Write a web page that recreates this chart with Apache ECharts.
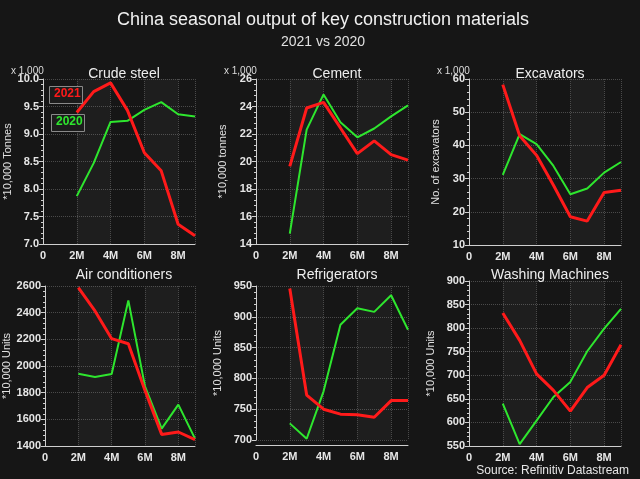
<!DOCTYPE html>
<html><head><meta charset="utf-8">
<script src="https://cdn.jsdelivr.net/npm/echarts@6/dist/echarts.min.js"></script>
<style>html,body{margin:0;padding:0;background:#161616}#c{width:640px;height:479px}</style>
</head><body><div id="c"></div>
<script>
const months = [2, 3, 4, 5, 6, 7, 8, 9];
const xTicks = ['0', '2M', '4M', '6M', '8M'];

const steel2021 = [9.39, 9.77, 9.93, 9.43, 8.66, 8.33, 7.36, 7.15];
const steel2020 = [7.87, 8.47, 9.22, 9.24, 9.44, 9.58, 9.36, 9.32];
const cement2021 = [19.65, 23.89, 24.30, 22.44, 20.57, 21.5, 20.5, 20.1];
const cement2020 = [14.75, 22.32, 24.88, 22.85, 21.76, 22.4, 23.28, 24.08];
const excav2021 = [58.3, 42.9, 37.0, 28.0, 18.5, 17.2, 25.8, 26.5];
const excav2020 = [31.1, 43.4, 40.4, 33.8, 25.3, 27.0, 31.8, 35.0];
const ac2021 = [2588, 2413, 2205, 2167, 1817, 1487, 1505, 1448];
const ac2020 = [1942, 1917, 1940, 2492, 1847, 1530, 1710, 1455];
const fridge2021 = [946, 773, 750, 742, 741, 737, 764, 764];
const fridge2020 = [727, 702, 779, 887, 914, 908, 935, 879];
const wash2021 = [832, 774, 703, 668, 624, 674, 700, 765];
const wash2020 = [640, 554, 604, 654, 686, 751, 799, 841];

const panels = [
  {title: 'Crude steel', unit: '*10,000 Tonnes', k: true, a: steel2021, b: steel2020, min: 7, max: 10, iv: 0.5, dec: 1,
   g: {left: 43, top: 79, width: 152, height: 165}, tt: 62},
  {title: 'Cement', unit: '*10,000 tonnes', k: true, a: cement2021, b: cement2020, min: 14, max: 26, iv: 2, dec: 0,
   g: {left: 256, top: 79, width: 152, height: 165}, tt: 62},
  {title: 'Excavators', unit: 'No. of excavators', k: true, a: excav2021, b: excav2020, min: 10, max: 60, iv: 10, dec: 0,
   g: {left: 469, top: 79, width: 152, height: 166}, tt: 62},
  {title: 'Air conditioners', unit: '*10,000 Units', k: false, a: ac2021, b: ac2020, min: 1400, max: 2600, iv: 200, dec: 0,
   g: {left: 43, top: 286, width: 152, height: 160}, tt: 263},
  {title: 'Refrigerators', unit: '*10,000 Units', k: false, a: fridge2021, b: fridge2020, min: 700, max: 950, iv: 50, dec: 0,
   g: {left: 256, top: 286, width: 152, height: 154}, xoff: 5, tt: 263},
  {title: 'Washing Machines', unit: '*10,000 Units', k: false, a: wash2021, b: wash2020, min: 550, max: 900, iv: 50, dec: 0,
   g: {left: 469, top: 281, width: 152, height: 165}, tt: 263}
];

const FONT = 'Liberation Sans';
const RED = '#ff1a1a', GREEN = '#2ee62e';
const grid = [], xAxis = [], yAxis = [], series = [];
const titles = [
  {text: 'China seasonal output of key construction materials', left: 318, top: 6, textAlign: 'center',
   textStyle: {color: '#f0f0f0', fontSize: 18, fontWeight: 'normal', fontFamily: FONT}},
  {text: '2021 vs 2020', left: 318, top: 30, textAlign: 'center',
   textStyle: {color: '#e0e0e0', fontSize: 14, fontWeight: 'normal', fontFamily: FONT}}
];
const graphic = [];

panels.forEach((p, i) => {
  grid.push(Object.assign({containLabel: false}, p.g));
  xAxis.push({
    type: 'value', gridIndex: i, min: 0, max: 9, interval: 2, offset: p.xoff || 0,
    axisLine: {show: true, lineStyle: {color: '#cfcfcf', width: 1}},
    axisTick: {show: false},
    axisLabel: {color: '#e6e6e6', fontSize: 11, fontWeight: 'bold', fontFamily: FONT, margin: 6,
      formatter: v => xTicks[v / 2] !== undefined ? xTicks[v / 2] : ''},
    splitLine: {show: true, lineStyle: {color: '#4a4a4a', type: 'dotted'}},
    splitArea: {show: true, areaStyle: {color: ['rgba(0,0,0,0)', 'rgba(255,255,255,0.035)']}}
  });
  yAxis.push({
    type: 'value', gridIndex: i, min: p.min, max: p.max, interval: p.iv,
    name: p.unit, nameLocation: 'middle', nameRotate: 90, nameGap: p.k ? 28 : 33,
    nameTextStyle: {color: '#e0e0e0', fontSize: 11, fontFamily: FONT},
    axisLine: {show: true, lineStyle: {color: '#cfcfcf', width: 1}},
    axisTick: {show: true, length: 4, lineStyle: {color: '#cfcfcf'}},
    minorTick: {show: true, splitNumber: 5, length: 2, lineStyle: {color: '#cfcfcf'}},
    axisLabel: {color: '#e6e6e6', fontSize: 11, fontWeight: 'bold', fontFamily: FONT, margin: 4,
      formatter: v => v.toFixed(p.dec)},
    splitLine: {show: true, lineStyle: {color: '#4a4a4a', type: 'dotted'}}
  });
  series.push({type: 'line', xAxisIndex: i, yAxisIndex: i, name: '2021', data: months.map((m, j) => [m, p.a[j]]),
    showSymbol: false, lineStyle: {color: RED, width: 3}, itemStyle: {color: RED}, z: 3});
  series.push({type: 'line', xAxisIndex: i, yAxisIndex: i, name: '2020', data: months.map((m, j) => [m, p.b[j]]),
    showSymbol: false, lineStyle: {color: GREEN, width: 2}, itemStyle: {color: GREEN}, z: 2});
  titles.push({text: p.title, left: p.g.left + p.g.width / 2, top: p.tt, textAlign: 'center',
    textStyle: {color: '#eeeeee', fontSize: 14, fontWeight: 'normal', fontFamily: FONT}});
  if (p.k) {
    graphic.push({type: 'text', left: p.g.left - 32, top: p.g.top - 13,
      style: {text: 'x 1,000', fill: '#dddddd', fontSize: 10, fontFamily: FONT}});
  }
});

graphic.push(
  {type: 'rect', left: 49, top: 86, shape: {width: 33, height: 17}, style: {fill: '#1c1c1c', stroke: '#8a8a8a', lineWidth: 1}, z: 10},
  {type: 'text', left: 54, top: 88, style: {text: '2021', fill: RED, fontSize: 12, fontWeight: 'bold', fontFamily: FONT}, z: 11},
  {type: 'rect', left: 51, top: 114, shape: {width: 33, height: 17}, style: {fill: '#1c1c1c', stroke: '#8a8a8a', lineWidth: 1}, z: 10},
  {type: 'text', left: 56, top: 116, style: {text: '2020', fill: GREEN, fontSize: 12, fontWeight: 'bold', fontFamily: FONT}, z: 11},
  {type: 'text', right: 11, top: 465, style: {text: 'Source: Refinitiv Datastream', fill: '#e6e6e6', fontSize: 12, fontFamily: FONT}}
);

const chart = echarts.init(document.getElementById('c'), null, {renderer: 'canvas'});
chart.setOption({
  backgroundColor: '#161616',
  animation: false,
  title: titles, grid, xAxis, yAxis, series, graphic
});
</script></body></html>
